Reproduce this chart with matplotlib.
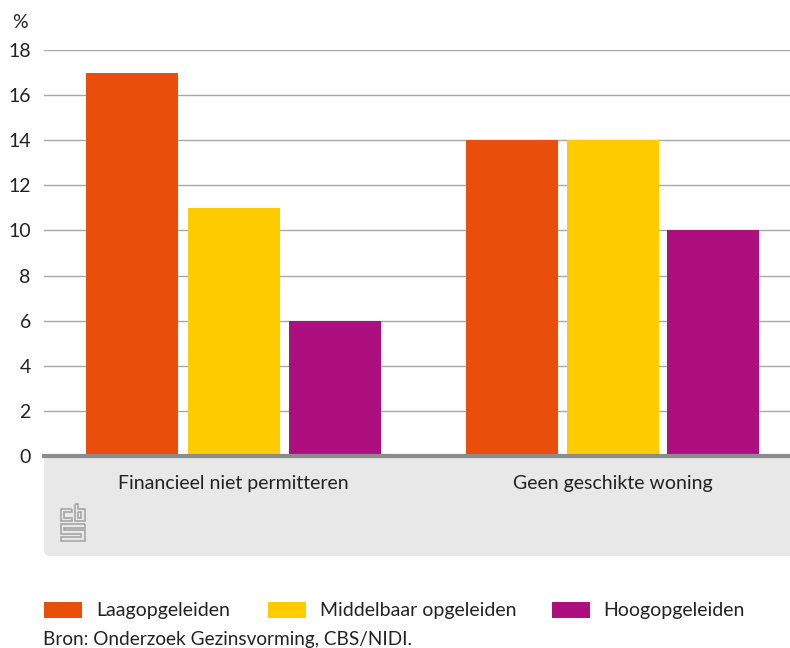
import matplotlib
matplotlib.use('Agg')
import matplotlib.pyplot as plt
from matplotlib.patches import FancyBboxPatch, Rectangle, PathPatch
from matplotlib.path import Path
import numpy as np

plt.rcParams['font.family'] = ['Lato', 'DejaVu Sans']

categories = ['Financieel niet permitteren', 'Geen geschikte woning']
series_names = ['Laagopgeleiden', 'Middelbaar opgeleiden', 'Hoogopgeleiden']
laag = [17, 14]
middel = [11, 14]
hoog = [6, 10]
colors = ['#e94e0a', '#ffcc00', '#ae0f7e']
yticks = [0, 2, 4, 6, 8, 10, 12, 14, 16, 18]
source = 'Bron: Onderzoek Gezinsvorming, CBS/NIDI.'

W, H = 790, 648
fig = plt.figure(figsize=(W / 100, H / 100), dpi=100)

# overlay in pixel coordinates for panel, logo, legend
bg = fig.add_axes([0, 0, 1, 1], zorder=0)
bg.set_xlim(0, W)
bg.set_ylim(H, 0)
bg.axis('off')

panel = FancyBboxPatch((44, 440), 780, 116, boxstyle='round,pad=0,rounding_size=6',
                       fc='#e8e8e8', ec='none')
bg.add_patch(panel)
panel.set_clip_path(Rectangle((44, 456), 746, 100, transform=bg.transData))

# plot area
left, right, top, bottom = 44, 790, 50, 456
ax = fig.add_axes([left / W, 1 - bottom / H, (right - left) / W, (bottom - top) / H], zorder=1)
ax.patch.set_visible(False)
ax.set_xlim(left, right)
ax.set_ylim(0, 18)
# bar centres per group, on the pixel scale of the x axis
centres = [233.5, 612.5]
steps = [101.5, 100.5]
bw = 92
for i, vals in enumerate([laag, middel, hoog]):
    xs = [c + (i - 1) * s for c, s in zip(centres, steps)]
    ax.bar(xs, vals, bw, color=colors[i], zorder=3)
ax.set_yticks(yticks)
ax.set_xticks(centres)
ax.set_xticklabels(categories, fontsize=14, color='#222222')
ax.tick_params(axis='y', length=0, pad=9.5, labelsize=14, labelcolor='#222222')
ax.tick_params(axis='x', length=0, pad=14)
ax.grid(axis='y', color='#a8a8a8', lw=1, zorder=1)
ax.set_axisbelow(True)
for s in ['top', 'right', 'left']:
    ax.spines[s].set_visible(False)
ax.spines['bottom'].set_color('#8c8c8c')
ax.spines['bottom'].set_linewidth(3)
ax.spines['bottom'].set_zorder(5)

bg.text(12, 22, '%', fontsize=14, color='#222222', ha='left', va='center')

# cbs logo
logo = [
    [(72, 508.5), (60.5, 508.5), (60.5, 521), (72, 521), (72, 517.5), (64, 517.5), (64, 512), (72, 512), (72, 508.5)],
    [(74.5, 503.5), (78, 503.5), (78, 508.5), (84.5, 508.5), (84.5, 521), (74.5, 521), (74.5, 503.5)],
    [(78, 512), (81, 512), (81, 517.5), (78, 517.5), (78, 512)],
    [(84.5, 524), (60.5, 524), (60.5, 533.5), (81, 533.5), (81, 537), (60.5, 537), (60.5, 540.5),
     (84.5, 540.5), (84.5, 530), (64, 530), (64, 527.5), (84.5, 527.5), (84.5, 524)],
]
for pts in logo:
    bg.add_patch(PathPatch(Path(np.array(pts)), fc='none', ec='#a6a6a6', lw=1.2))

# legend
legend_x = [(44, 96), (268, 320), (552, 603)]
for (px, tx), name, c in zip(legend_x, series_names, colors):
    bg.add_patch(Rectangle((px, 602), 38, 16, fc=c, ec='none'))
    bg.text(tx, 610.5, name, fontsize=14, color='#222222', ha='left', va='center')
bg.text(43, 640, source, fontsize=13.65, color='#222222', ha='left', va='center')

fig.savefig('out.png', dpi=100)
